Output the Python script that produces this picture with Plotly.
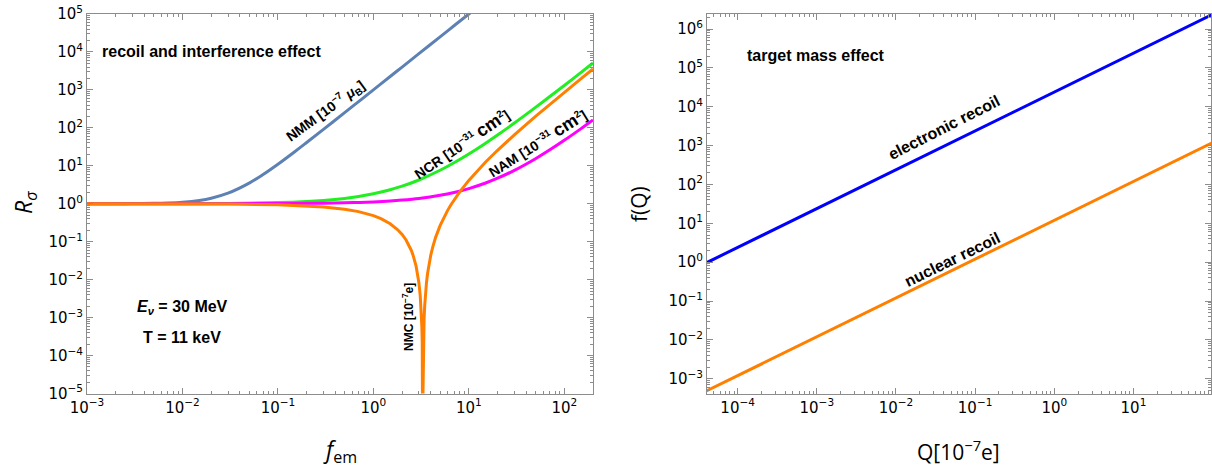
import plotly.graph_objects as go

# ---------------- data: left panel (R_sigma vs f_em) ----------------
f_nmm = [0.001, 0.002, 0.003, 0.005, 0.007, 0.01, 0.015, 0.02, 0.03, 0.05, 0.07,
         0.1, 0.15, 0.2, 0.3, 0.5, 0.7, 1, 1.5, 2, 3, 5, 7, 10, 15]
r_nmm = [1.001, 1.004, 1.009, 1.025, 1.049, 1.1, 1.225, 1.4, 1.9, 3.5, 5.9,
         11, 23.5, 41, 91, 251, 491, 1001, 2251, 4001, 9001, 25001, 49001, 100001, 225001]

f_ncr = [0.001, 0.01, 0.03, 0.1, 0.2, 0.3, 0.5, 0.7, 1, 1.5, 2, 3, 5, 7, 10,
         15, 20, 30, 50, 70, 100, 150, 200]
r_ncr = [1.0007, 1.00705, 1.0212, 1.0716, 1.1458, 1.2223, 1.383, 1.5535, 1.828, 2.335,
         2.904, 4.227, 7.618, 12.0, 20.43, 39.44, 64.64, 133.6, 346.0, 657.4, 1310, 2894, 5098]

f_nam = [0.001, 0.01, 0.1, 0.3, 0.5, 0.7, 1, 1.5, 2, 3, 5, 7, 10, 15, 20, 30,
         50, 70, 100, 150, 200]
r_nam = [1.0001, 1.00117, 1.0117, 1.0354, 1.0593, 1.0836, 1.1204, 1.1831, 1.2476,
         1.3817, 1.6703, 1.9863, 2.5116, 3.5239, 4.7072, 7.5867, 15.398, 25.945,
         46.895, 95.49, 161.19]

f_nmc = [0.001, 0.01, 0.03, 0.1, 0.2, 0.3, 0.5, 0.7, 1, 1.2, 1.5, 1.8, 2, 2.2, 2.5,
         2.6, 2.8, 2.9, 3.0, 3.1, 3.15, 3.2, 3.22, 3.25, 3.27, 3.28, 3.29, 3.3,
         3.31, 3.32, 3.33, 3.35, 3.38, 3.4, 3.45, 3.5, 3.6, 3.7, 3.8, 4, 4.2, 4.5,
         5, 5.5, 6, 6.5, 7, 8, 10, 15, 20, 30, 50, 70, 100, 150, 200]
r_nmc = [0.99939, 0.99395, 0.98190, 0.94031, 0.88246, 0.82645, 0.71993, 0.62075,
         0.48577, 0.404959, 0.29752, 0.206612, 0.15519, 0.111111, 0.05877, 0.044995,
         0.022957, 0.014692, 0.0082645, 0.0036731, 0.0020661, 0.00091827, 0.0005877,
         0.00022957, 8.2645e-5, 3.6731e-5, 9.1827e-6, 1e-8, 9.1827e-6, 3.6731e-5,
         8.2645e-5, 0.00022957, 0.0005877, 0.00091827, 0.0020661, 0.0036731,
         0.0082645, 0.014692, 0.022957, 0.044995, 0.07438, 0.13223, 0.26538,
         0.444444, 0.66942, 0.940312, 1.25712, 2.02847, 4.1221, 12.570, 25.610,
         65.463, 200.27, 408.53, 858.67, 1976.2, 3552.9]

# ---------------- data: right panel (f(Q) vs Q) ----------------
q_vals = [4e-5, 1e-4, 1e-3, 1e-2, 1e-1, 1, 10, 100]
f_electronic = [0.96, 2.4, 24, 240, 2400, 2.4e4, 2.4e5, 2.4e6]
f_nuclear = [4.8e-4, 1.2e-3, 1.2e-2, 0.12, 1.2, 12, 120, 1200]

# tick exponents
left_x_exp = [-3, -2, -1, 0, 1, 2]
left_y_exp = [-5, -4, -3, -2, -1, 0, 1, 2, 3, 4, 5]
right_x_exp = [-4, -3, -2, -1, 0, 1]
right_y_exp = [-3, -2, -1, 0, 1, 2, 3, 4, 5, 6]

W, H = 1212, 471


def px(x):
    return x / W


def py(y):
    return 1 - y / H


def ticktxt(e):
    return "10<sup>%s</sup>" % (str(e).replace("-", "\u2212"))


def minors(exps):
    out = []
    for e in range(min(exps) - 1, max(exps) + 1):
        for m in range(2, 10):
            out.append(m * 10 ** e)
    return out


fig = go.Figure()

lw = 3
fig.add_trace(go.Scatter(x=f_nmm, y=r_nmm, mode="lines", line=dict(color="#5E81B5", width=lw, shape="spline"),
                         xaxis="x", yaxis="y", showlegend=False))
fig.add_trace(go.Scatter(x=f_ncr, y=r_ncr, mode="lines", line=dict(color="#22EE22", width=lw, shape="spline"),
                         xaxis="x", yaxis="y", showlegend=False))
fig.add_trace(go.Scatter(x=f_nam, y=r_nam, mode="lines", line=dict(color="#FF00FF", width=lw, shape="spline"),
                         xaxis="x", yaxis="y", showlegend=False))
fig.add_trace(go.Scatter(x=f_nmc, y=r_nmc, mode="lines", line=dict(color="#FF8000", width=lw),
                         xaxis="x", yaxis="y", showlegend=False))

fig.add_trace(go.Scatter(x=q_vals, y=f_electronic, mode="lines", line=dict(color="#0000FF", width=lw),
                         xaxis="x2", yaxis="y2", showlegend=False))
fig.add_trace(go.Scatter(x=q_vals, y=f_nuclear, mode="lines", line=dict(color="#FF8000", width=lw),
                         xaxis="x2", yaxis="y2", showlegend=False))

axcol = "#8c8c8c"
tickfont = dict(family="DejaVu Sans", size=15, color="black")


def axis(domain, rng, exps, anchor):
    return dict(
        type="log", domain=domain, range=rng, anchor=anchor, automargin=False,
        tickmode="array", tickvals=[10 ** e for e in exps], ticktext=[ticktxt(e) for e in exps],
        ticks="inside", ticklen=6, tickwidth=1, tickcolor=axcol,
        showline=True, linecolor=axcol, linewidth=1, mirror="ticks",
        showgrid=False, zeroline=False, tickfont=tickfont,
        minor=dict(tickmode="array", tickvals=minors(exps), ticks="inside", ticklen=3,
                   tickwidth=1, tickcolor=axcol, showgrid=False),
    )


ybot = 393.5
fig.update_layout(
    width=W, height=H, margin=dict(l=0, r=0, t=0, b=0, autoexpand=False),
    paper_bgcolor="white", plot_bgcolor="white",
    xaxis=axis([px(87), px(593)], [-3, 2.301], left_x_exp, "y"),
    yaxis=axis([py(ybot), py(14)], [-5, 5], left_y_exp, "x"),
    xaxis2=axis([px(707), px(1211)], [-4.387, 1.98], right_x_exp, "y2"),
    yaxis2=axis([py(ybot), py(14)], [-3.38, 6.39], right_y_exp, "x2"),
)

bold = dict(family="Liberation Sans", size=16, color="black")
small = dict(family="Liberation Sans", size=14, color="black")
title_font = dict(family="Open Sans", size=21, color="black")

annots = [
    (211, 52, "<b>recoil and interference effect</b>", 0, bold),
    (182, 307, "<b><i>E<sub>ν</sub></i> = 30 MeV</b>", 0, bold),
    (182, 337, "<b>T = 11 keV</b>", 0, bold),
    (325, 111, "<b>NMM [10<sup>\u22127</sup> <i>μ</i><sub>B</sub>]</b>", -36, small),
    (461, 144, "<b>NCR [10<sup>\u221231</sup> <span style='font-size:18px'>cm</span><sup>2</sup>]</b>", -34, small),
    (537, 143, "<b>NAM [10<sup>\u221231</sup> <span style='font-size:18px'>cm</span><sup>2</sup>]</b>", -32, small),
    (408, 317, "<b>NMC [10<sup>\u22127</sup>e]</b>", -90, dict(family="Liberation Sans", size=12, color="black")),
    (816, 56, "<b>target mass effect</b>", 0, bold),
    (944, 128, "<b>electronic recoil</b>", -27, bold),
    (952, 259, "<b>nuclear recoil</b>", -26, bold),
    (24, 203, "<i>R</i><sub><i>σ</i></sub>", -90, dict(family="Open Sans", size=23, color="black")),
    (340, 450, "<i>f</i><sub>em</sub>", 0, dict(family="Open Sans", size=23, color="black")),
    (639, 204, "f(Q)", -90, title_font),
    (958, 450, "Q[10<sup>\u22127</sup>e]", 0, title_font),
]
for x, y, t, ang, fnt in annots:
    fig.add_annotation(x=px(x), y=py(y), xref="paper", yref="paper", text=t, textangle=ang,
                       showarrow=False, xanchor="center", yanchor="middle", font=fnt)

fig.write_html("out.html")
